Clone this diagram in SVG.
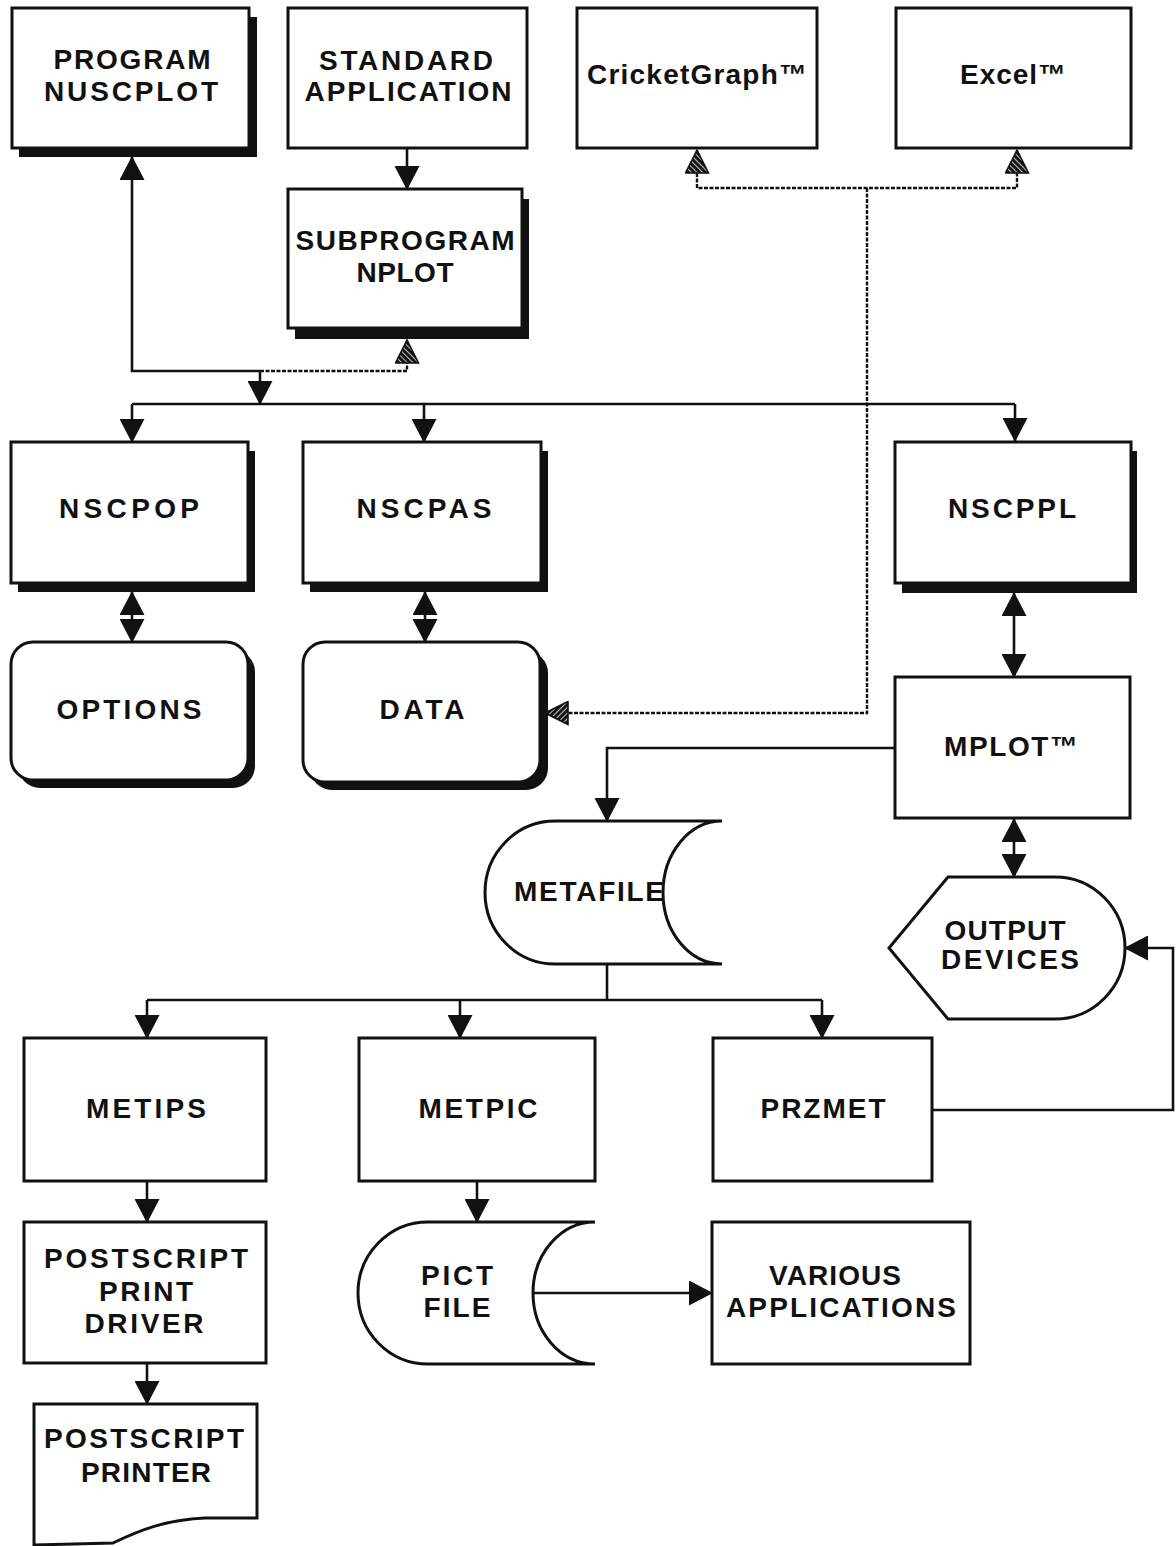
<svg xmlns="http://www.w3.org/2000/svg" width="1176" height="1546" viewBox="0 0 1176 1546">
<style>
.bx{fill:#fff;stroke:#111;stroke-width:3}
.sh{fill:#111}
.t{font-family:"Liberation Sans",Arial,Helvetica,sans-serif;font-weight:bold;font-size:28px;fill:#111;text-anchor:middle}
.c{fill:none;stroke:#111;stroke-width:2.6}
.d{fill:none;stroke:#111;stroke-width:2.4;stroke-dasharray:4 1.5}
</style>
<defs>
<pattern id="hatch" patternUnits="userSpaceOnUse" width="4" height="4" patternTransform="rotate(45)">
<rect width="4" height="4" fill="#111"/>
<rect width="1.1" height="4" fill="#bbb"/>
</pattern>
<marker id="arr" viewBox="0 0 24 25" refX="23" refY="12.5" markerWidth="24" markerHeight="25" orient="auto-start-reverse" markerUnits="userSpaceOnUse">
<path d="M0,0 L24,12.5 L0,25 Z" fill="#111"/>
</marker>
<marker id="hat" viewBox="-1 -1 25 25" refX="22" refY="11.5" markerWidth="25" markerHeight="25" orient="auto-start-reverse" markerUnits="userSpaceOnUse">
<path d="M0,0 L23,11.5 L0,23 Z" fill="url(#hatch)" stroke="#111" stroke-width="1.6"/>
</marker>
</defs>

<g id="connectors">
<path class="c" d="M407,148 L407,189" marker-end="url(#arr)"/>
<path class="c" d="M260,371 L132,371 L132,157" marker-end="url(#arr)"/>
<path class="d" d="M260,371 L407,371 L407,341" marker-end="url(#hat)"/>
<path class="c" d="M260,371 L260,404" marker-end="url(#arr)"/>
<path class="c" d="M132,404 L1015,404"/>
<path class="c" d="M132,404 L132,442" marker-end="url(#arr)"/>
<path class="c" d="M424,404 L424,442" marker-end="url(#arr)"/>
<path class="c" d="M1015,404 L1015,441" marker-end="url(#arr)"/>
<path class="c" d="M132,592 L132,642" marker-start="url(#arr)" marker-end="url(#arr)"/>
<path class="c" d="M425,592 L425,642" marker-start="url(#arr)" marker-end="url(#arr)"/>
<path class="c" d="M1014,593 L1014,677" marker-start="url(#arr)" marker-end="url(#arr)"/>
<path class="c" d="M1014,819 L1014,877" marker-start="url(#arr)" marker-end="url(#arr)"/>
<path class="c" d="M895,748 L607,748 L607,821" marker-end="url(#arr)"/>
<path class="c" d="M607,964 L607,1000"/>
<path class="c" d="M147,1000 L822,1000"/>
<path class="c" d="M147,1000 L147,1038" marker-end="url(#arr)"/>
<path class="c" d="M460,1000 L460,1038" marker-end="url(#arr)"/>
<path class="c" d="M822,1000 L822,1038" marker-end="url(#arr)"/>
<path class="c" d="M933,1110 L1173,1110 L1173,948 L1125,948" marker-end="url(#arr)"/>
<path class="c" d="M147,1181 L147,1222" marker-end="url(#arr)"/>
<path class="c" d="M147,1363 L147,1404" marker-end="url(#arr)"/>
<path class="c" d="M477,1181 L477,1222" marker-end="url(#arr)"/>
<path class="c" d="M533,1293 L712,1293" marker-end="url(#arr)"/>
<path class="d" d="M697,151 L697,188 L1017,188 L1017,151" marker-start="url(#hat)" marker-end="url(#hat)"/>
<path class="d" d="M867,188 L867,713 L546,713" marker-end="url(#hat)"/>
</g>

<g id="program-nuscplot">
<rect class="sh" x="19" y="17" width="238" height="140"/>
<rect class="bx" x="12" y="8" width="237" height="140"/>
<text class="t" x="132" y="69" textLength="157" lengthAdjust="spacing">PROGRAM</text>
<text class="t" x="131" y="101" textLength="174" lengthAdjust="spacing">NUSCPLOT</text>
</g>

<g id="standard-application">
<rect class="bx" x="288" y="8" width="239" height="140"/>
<text class="t" x="406" y="70" textLength="174" lengthAdjust="spacing">STANDARD</text>
<text class="t" x="408" y="101" textLength="207" lengthAdjust="spacing">APPLICATION</text>
</g>

<g id="cricketgraph">
<rect class="bx" x="577" y="8" width="240" height="140"/>
<text class="t" x="697" y="84" textLength="220" lengthAdjust="spacing">CricketGraph™</text>
</g>

<g id="excel">
<rect class="bx" x="896" y="8" width="235" height="140"/>
<text class="t" x="1013" y="84" textLength="106" lengthAdjust="spacing">Excel™</text>
</g>

<g id="subprogram-nplot">
<rect class="sh" x="295" y="199" width="234" height="140"/>
<rect class="bx" x="288" y="189" width="234" height="139"/>
<text class="t" x="405" y="250" textLength="219" lengthAdjust="spacing">SUBPROGRAM</text>
<text class="t" x="405" y="282" textLength="97" lengthAdjust="spacing">NPLOT</text>
</g>

<g id="nscpop">
<rect class="sh" x="18" y="451" width="237" height="141"/>
<rect class="bx" x="11" y="442" width="237" height="141"/>
<text class="t" x="129" y="518" textLength="140" lengthAdjust="spacing">NSCPOP</text>
</g>

<g id="nscpas">
<rect class="sh" x="310" y="451" width="238" height="141"/>
<rect class="bx" x="303" y="442" width="238" height="141"/>
<text class="t" x="424" y="518" textLength="135" lengthAdjust="spacing">NSCPAS</text>
</g>

<g id="nscppl">
<rect class="sh" x="902" y="451" width="235" height="142"/>
<rect class="bx" x="895" y="442" width="236" height="141"/>
<text class="t" x="1012" y="518" textLength="128" lengthAdjust="spacing">NSCPPL</text>
</g>

<g id="options">
<rect class="sh" x="18" y="650" width="237" height="138" rx="22"/>
<rect class="bx" x="11" y="642" width="237" height="138" rx="22"/>
<text class="t" x="129" y="719" textLength="145" lengthAdjust="spacing">OPTIONS</text>
</g>

<g id="data">
<rect class="sh" x="310" y="651" width="238" height="139" rx="22"/>
<rect class="bx" x="303" y="642" width="237" height="140" rx="22"/>
<text class="t" x="422" y="719" textLength="85" lengthAdjust="spacing">DATA</text>
</g>

<g id="mplot">
<rect class="bx" x="895" y="677" width="235" height="141"/>
<text class="t" x="1011" y="756" textLength="134" lengthAdjust="spacing">MPLOT™</text>
</g>

<g id="metafile">
<path class="bx" d="M722,821 L555,821 A70,71.5 0 0 0 555,964 L722,964 A59,71.5 0 0 1 722,821"/>
<text class="t" x="589" y="901" textLength="150" lengthAdjust="spacing">METAFILE</text>
</g>

<g id="output-devices">
<path class="bx" d="M889,948 L948,877 L1055,877 A70,71 0 0 1 1055,1019 L948,1019 Z"/>
<text class="t" x="1005" y="940" textLength="121" lengthAdjust="spacing">OUTPUT</text>
<text class="t" x="1010" y="969" textLength="138" lengthAdjust="spacing">DEVICES</text>
</g>

<g id="metips">
<rect class="bx" x="24" y="1038" width="242" height="143"/>
<text class="t" x="146" y="1118" textLength="120" lengthAdjust="spacing">METIPS</text>
</g>

<g id="metpic">
<rect class="bx" x="359" y="1038" width="236" height="143"/>
<text class="t" x="478" y="1118" textLength="119" lengthAdjust="spacing">METPIC</text>
</g>

<g id="przmet">
<rect class="bx" x="713" y="1038" width="219" height="143"/>
<text class="t" x="823" y="1118" textLength="125" lengthAdjust="spacing">PRZMET</text>
</g>

<g id="postscript-print-driver">
<rect class="bx" x="24" y="1222" width="242" height="141"/>
<text class="t" x="146" y="1268" textLength="204" lengthAdjust="spacing">POSTSCRIPT</text>
<text class="t" x="146" y="1301" textLength="94" lengthAdjust="spacing">PRINT</text>
<text class="t" x="144" y="1333" textLength="119" lengthAdjust="spacing">DRIVER</text>
</g>

<g id="postscript-printer">
<path class="bx" d="M34,1404 L257,1404 L257,1518 L205,1518 C165,1520 140,1530 113,1543 L34,1545 Z"/>
<text class="t" x="144" y="1448" textLength="200" lengthAdjust="spacing">POSTSCRIPT</text>
<text class="t" x="146" y="1482" textLength="130" lengthAdjust="spacing">PRINTER</text>
</g>

<g id="pict-file">
<path class="bx" d="M595,1222 L428,1222 A70,71 0 0 0 428,1364 L595,1364 A62,71 0 0 1 595,1222"/>
<text class="t" x="457" y="1285" textLength="72" lengthAdjust="spacing">PICT</text>
<text class="t" x="457" y="1317" textLength="67" lengthAdjust="spacing">FILE</text>
</g>

<g id="various-applications">
<rect class="bx" x="712" y="1222" width="258" height="142"/>
<text class="t" x="835" y="1285" textLength="132" lengthAdjust="spacing">VARIOUS</text>
<text class="t" x="841" y="1317" textLength="230" lengthAdjust="spacing">APPLICATIONS</text>
</g>
</svg>
